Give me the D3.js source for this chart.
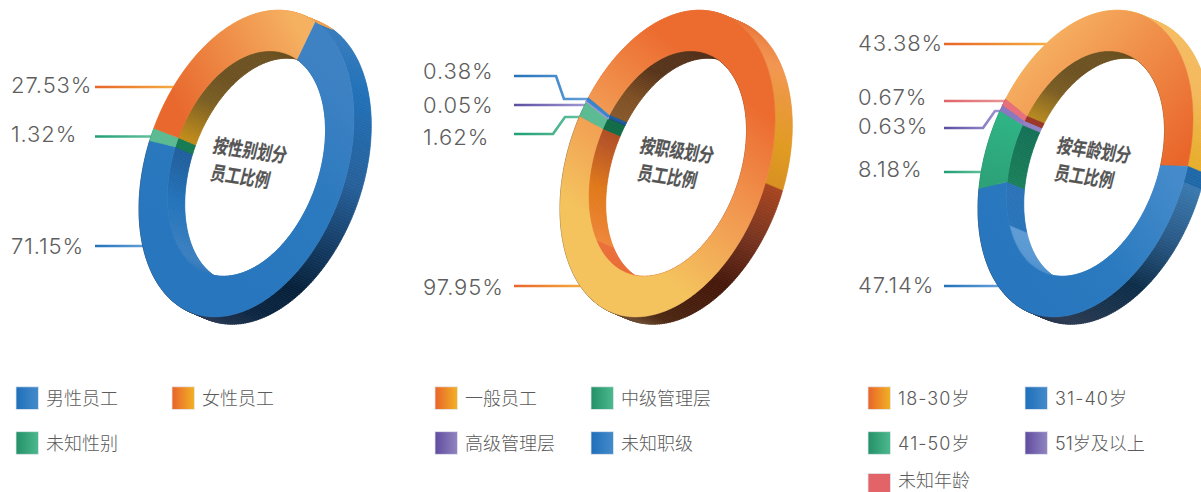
<!DOCTYPE html>
<html><head><meta charset="utf-8">
<script src="https://cdn.jsdelivr.net/npm/d3@7/dist/d3.min.js"></script>
<style>html,body{margin:0;padding:0;background:#fff;overflow:hidden}svg{display:block}</style>
</head><body><div id="c"></div>
<script>
// ---- data ----
const genderCategories = ["男性员工","女性员工","未知性别"];
const genderValues = [71.15,27.53,1.32];
const genderRingOrder = [0,2,1];
const levelCategories = ["一般员工","中级管理层","高级管理层","未知职级"];
const levelValues = [97.95,1.62,0.05,0.38];
const levelRingOrder = [0,1,2,3];
const ageCategories = ["18-30岁","31-40岁","41-50岁","51岁及以上","未知年龄"];
const ageValues = [43.38,47.14,8.18,0.63,0.67];
const ageRingOrder = [0,1,2,3,4];
const titles = [["按性别划分","员工比例"],["按职级划分","员工比例"],["按年龄划分","员工比例"]];

// ---- style / layout ----
const W=1201,H=492;
const RX=107.5, SKEW=-45.3, RY=146.5, INNER=0.735, DX=17.3, DY=7.3;
const CY=163.6;
const legendRowY=[386.8,431.7,473.4];
const hue={blue:["#1f6fba","#458bcb"],orange:["#e8632a","#f2b225"],green:["#239068","#4cb98e"],purple:["#5f4ba0","#9285c0"],red:["#e26468","#e26468"]};
const line={blue:["#2272ba","#6ba3da"],orange:["#e8652a","#f5b040"],green:["#1f9e75","#6ac49f"],purple:["#5b4da0","#a79cd8"],red:["#e0636a","#e89a9a"]};

const charts=[
 {cx:246.5,titleDx:-3,start:39.6,values:genderValues,cats:genderCategories,order:genderRingOrder,title:titles[0],
  legendX:[16,172],perRow:2,
  styles:[
   {key:"blue",face:{p:[-79,120,87,-97],s:[[0,"#2776be"],[.55,"#2b79be"],[1,"#3f82c4"]]},
    outer:[[40,"#3b7dbc"],[79,"#2070b8"],[114,"#26609a"],[138,"#143c64"],[159,"#06203a"],[180,"#0a2440"],[196,"#1c2f4a"],[205,"#2a3a55"]],
    inner:[[205,"#2a72b8"],[235,"#3b7fbf"],[270,"#2272ba"],[291,"#20609f"],[297,"#1f5f9e"]]},
   {key:"orange",face:{p:[-73,-63,54,-130],s:[[0,"#e8682e"],[1,"#f5b060"]]},
    outer:[[0,"#f0a050"]],
    inner:[[301.5,"#c08a18"],[323,"#7a5e22"],[340,"#6b5020"],[400,"#6b5020"]]},
   {key:"green",face:{p:[0,0,1,0],s:[[0,"#5dbb93"],[1,"#5dbb93"]]},outer:[[0,"#1a7f5a"]],inner:[[0,"#147a50"]]}
  ],
  leaders:[
   {i:0,y:246,a:246,label:246},{i:1,y:87,a:87,label:85},{i:2,y:136.5,a:136.5,label:134}
  ],labelX:11,lineX:95},
 {cx:667.5,titleDx:3,start:312.6,values:levelValues,cats:levelCategories,order:levelRingOrder,title:titles[1],
  legendX:[435,591],perRow:2,
  styles:[
   {key:"orange",face:{p:[-80,103,76,-97],s:[[.15,"#f4c35e"],[.55,"#f19650"],[.9,"#ec6c30"]]},
    outer:[[397,"#e8743a"],[427,"#f2954f"],[460,"#e09a20"],[474.5,"#d88f1f"],[474.6,"#a84520"],[494,"#7a3520"],[516,"#45170a"],[548,"#4a2510"],[562,"#6b4a30"]],
    inner:[[312.6,"#86582a"],[326,"#7d4e22"],[345,"#553218"],[378,"#53301a"],[560,"#ea6d38"],[604.9,"#ea6d38"],[605,"#ee8538"],[637,"#e07818"],[659,"#b85525"],[666,"#b04a22"]]},
   {key:"green",face:{p:[0,0,1,0],s:[[0,"#5dbb93"],[1,"#5dbb93"]]},outer:[[0,"#1a7f5a"]],inner:[[0,"#0f6a45"]]},
   {key:"purple",thick:2.2,face:{p:[0,0,1,0],s:[[0,"#a49ad6"],[1,"#a49ad6"]]},outer:[[0,"#2a3565"]],inner:[[0,"#2a3565"]]},
   {key:"blue",face:{p:[0,0,1,0],s:[[0,"#3a85cc"],[1,"#3a85cc"]]},outer:[[0,"#1a5a9a"]],inner:[[0,"#1a5a9a"]]}
  ],
  leaders:[
   {i:3,y:76,a:99,label:71,elbow:[556,564]},{i:2,y:105,a:105,label:105},{i:1,y:134,a:117,label:137,elbow:[553,565]},{i:0,y:286,a:286,label:287}
  ],labelX:423,lineX:514},
 {cx:1085.5,titleDx:2,start:312,values:ageValues,cats:ageCategories,order:ageRingOrder,title:titles[2],
  legendX:[868,1025],perRow:2,
  styles:[
   {key:"orange",face:{p:[-28,-130,102,-13],s:[[0,"#f5ad60"],[1,"#e9662b"]]},
    outer:[[400,"#f5bc62"],[440,"#f3b85a"],[464,"#e8ae2e"]],
    inner:[[312,"#b88a1e"],[330,"#7a5c22"],[345,"#6b5020"],[370,"#6b5020"]]},
   {key:"blue",face:{p:[-78,137,88,10],s:[[0,"#2776be"],[.5,"#2b7abf"],[1,"#458bcb"]]},
    outer:[[468,"#1f68a8"],[473.9,"#1f68a8"],[474,"#3a7ab0"],[495,"#2a5a88"],[518,"#0c2c48"],[555,"#2a3850"]],
    inner:[[560,"#3e86c6"],[595,"#5797d2"],[613.9,"#5b9ad4"],[614,"#2672b9"],[638,"#2a72b8"]]},
   {key:"green",face:{p:[-102,23,-82,-50],s:[[0,"#2da078"],[1,"#2fb585"]]},outer:[[0,"#1a7f5a"]],inner:[[638,"#1a7f5a"],[667,"#137055"]]},
   {key:"purple",face:{p:[0,0,1,0],s:[[0,"#8a78c0"],[1,"#8a78c0"]]},outer:[[0,"#6a5aa8"]],inner:[[0,"#8f80c4"]]},
   {key:"red",face:{p:[0,0,1,0],s:[[0,"#e8707a"],[1,"#e8707a"]]},outer:[[0,"#9a3527"]],inner:[[0,"#9a3527"]]}
  ],
  leaders:[
   {i:0,y:44,a:44,label:43},{i:4,y:101,a:101,label:97},{i:3,y:128,a:111,label:126,elbow:[983,995]},{i:2,y:172,a:172,label:169},{i:1,y:286,a:286,label:285}
  ],labelX:858,lineX:944}
];

const svg=d3.select("#c").append("svg").attr("width",W).attr("height",H);
const defs=svg.append("defs");
let uid=0;
function grad(x1,y1,x2,y2,stops){
  const id="g"+(uid++);
  const g=defs.append("linearGradient").attr("id",id).attr("gradientUnits","userSpaceOnUse")
    .attr("x1",x1).attr("y1",y1).attr("x2",x2).attr("y2",y2);
  stops.forEach(s=>g.append("stop").attr("offset",s[0]).attr("stop-color",s[1]));
  return "url(#"+id+")";
}
const deg=d=>d*Math.PI/180;
const sx=d3.scaleLinear().domain([0,1]).range([0,RX]);
const su=d3.scaleLinear().domain([0,1]).range([0,SKEW]);
const sv=d3.scaleLinear().domain([0,1]).range([0,RY]);
const proj=(a,r)=>{const u=r*Math.sin(a),v=-r*Math.cos(a);return [sx(u),su(u)+sv(v)];};
const lineGen=d3.line();
const SANS='Inter,"Liberation Sans",Arial,sans-serif', CJK='"Noto Sans CJK SC",sans-serif', MIX='Inter,"Noto Sans CJK SC",sans-serif';

function leftEdge(dy){ // x of the outer front edge on the left side at height dy
  const n=SKEW*SKEW+RY*RY;
  return RX*(SKEW*dy-RY*Math.sqrt(n-dy*dy))/n;
}

charts.forEach(ch=>{
  const root=svg.append("g");
  const under=root.append("g");
  const g=root.append("g").attr("transform",`translate(${ch.cx},${CY})`);
  const pie=d3.pie().sort(null).value(d=>d.v).startAngle(deg(ch.start)).endAngle(deg(ch.start+360));
  const arcs=pie(ch.order.map(i=>({v:ch.values[i],i,st:ch.styles[i]})));

  // leader lines + labels, below the ring
  ch.leaders.forEach(L=>{
    const key=ch.styles[L.i].key;
    const ex=ch.cx+leftEdge(L.a-CY)+6;
    const pts=[[ch.lineX,L.y]];
    if(L.elbow){pts.push([L.elbow[0],L.y]);pts.push([L.elbow[1],L.a]);}
    pts.push([ex,L.a]);
    under.append("path").attr("d",lineGen(pts)).attr("fill","none").attr("stroke-width",2.6)
      .attr("stroke-linejoin","round")
      .attr("stroke",grad(ch.lineX,0,ex,0,[[0,line[key][0]],[1,line[key][1]]]));
    under.append("text").attr("x",ch.labelX).attr("y",L.label+8).attr("font-family",SANS)
      .attr("font-size",22).attr("font-weight",300).attr("letter-spacing",0.9).attr("fill","#5e5e5e")
      .text(ch.values[L.i].toFixed(2)+"%");
  });

  // walls
  [["outer",1],["inner",INNER]].forEach(([wall,r])=>{
    arcs.forEach(a=>{
      const stops=a.data.st[wall];
      const col=d3.scaleLinear().domain(stops.map(s=>s[0])).range(stops.map(s=>s[1])).clamp(true);
      const d0=a.startAngle*180/Math.PI,d1=a.endAngle*180/Math.PI;
      const ticks=d3.range(d0,d1,1).concat([d1]);
      d3.pairs(ticks).forEach(([p,q])=>{
        const A=proj(deg(p),r),B=proj(deg(q),r);
        const m=(p+q)/2;
        const c=stops.length>1?col(m):stops[0][1];
        g.append("path").attr("d",lineGen([A,B,[B[0]+DX,B[1]+DY],[A[0]+DX,A[1]+DY]])+"Z")
          .attr("fill",c).attr("stroke",c).attr("stroke-width",.7);
      });
    });
  });

  // front faces
  arcs.forEach(a=>{
    const st=a.data.st, f=st.face;
    const fill=grad(f.p[0],f.p[1],f.p[2],f.p[3],f.s);
    const n=Math.max(2,Math.ceil((a.endAngle-a.startAngle)*180/Math.PI));
    const ang=d3.range(n+1).map(k=>a.startAngle+(a.endAngle-a.startAngle)*k/n);
    const pts=ang.map(t=>proj(t,1)).concat(ang.slice().reverse().map(t=>proj(t,INNER)));
    g.append("path").attr("d",lineGen(pts)+"Z").attr("fill",fill)
      .attr("stroke",fill).attr("stroke-width",st.thick||.5);
  });

  // centre title
  const t=g.append("g").attr("transform",`translate(${-31.5+ch.titleDx},-11.6) matrix(0.77,0.113,-0.25,1,0,0)`);
  ch.title.forEach((s,k)=>{
    t.append("text").attr("x",k*5.5).attr("y",k*26.7).attr("font-family",CJK).attr("font-weight",700)
      .attr("font-size",19).attr("fill","#555").attr("stroke","#555").attr("stroke-width",.2).text(s);
  });

  // legend
  ch.cats.forEach((c,i)=>{
    const col=i%ch.perRow,row=Math.floor(i/ch.perRow);
    const x=ch.legendX[col],y=legendRowY[row];
    const key=ch.styles[i].key;
    root.append("rect").attr("x",x).attr("y",y).attr("width",22.5).attr("height",22.6)
      .attr("fill",grad(x,0,x+22.5,0,[[0,hue[key][0]],[1,hue[key][1]]])).attr("stroke","#e4e8ee").attr("stroke-width",.8);
    root.append("text").attr("x",x+30).attr("y",row===2?487:y+18).attr("font-family",MIX).attr("font-size",18).attr("font-weight",300)
      .attr("letter-spacing",c.includes("-")?1.1:0).attr("fill","#5a5a5a").text(c);
  });
});
</script></body></html>
